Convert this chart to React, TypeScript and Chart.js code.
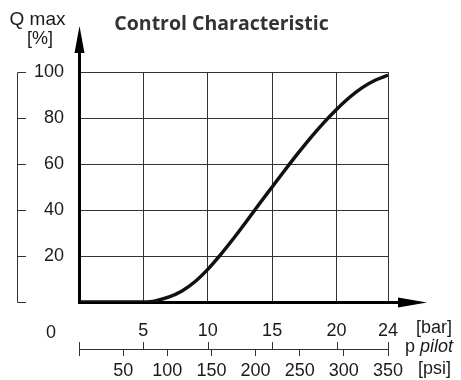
import { useEffect, useRef } from 'react';
import { Chart, registerables } from 'chart.js';

Chart.register(...registerables);

// Pilot pressure [bar] and flow [% of Q max]
const pressureBar = [0, 5, 5.5, 6, 7, 8, 9, 10, 11, 12, 13, 14, 15, 16, 17, 18, 19, 20, 21, 22, 23, 24];
const flowPercent = [0, 0, 0.1, 0.6, 2.2, 4.8, 8.8, 14.2, 20.6, 27.6, 35, 42.6, 50, 57.4, 64.6, 71.5, 77.9, 83.7, 88.9, 93.2, 96.4, 98.6];

const barTicks = [0, 5, 10, 15, 20, 24];
const psiTicks = [0, 50, 100, 150, 200, 250, 300, 350];
const yTicks = [0, 20, 40, 60, 80, 100];

const titleText = 'Control Characteristic';
const yTitle = ['Q max', '[%]'];
const barUnit = '[bar]';
const pilotLabel = ['p ', 'pilot'];
const psiUnit = '[psi]';

const FONT = '"Liberation Sans", Arial, sans-serif';
const TEXT = '#1a1a1a';
const GRID = '#333';

const decor = {
  id: 'decor',
  afterDraw(chart: any) {
    const ctx = chart.ctx as CanvasRenderingContext2D;
    const { left, right, top, bottom } = chart.chartArea;
    const xs = chart.scales.x;
    const ys = chart.scales.y;
    const ps = chart.scales.psi;
    ctx.save();
    const ax = Math.round(left - 1.5) + 1.5;
    const ay = Math.round(bottom - 1.5) + 1.5;
    ctx.strokeStyle = '#000';
    ctx.fillStyle = '#000';
    ctx.lineWidth = 3;
    // y axis extension + arrow
    ctx.beginPath();
    ctx.moveTo(ax, top + 1);
    ctx.lineTo(ax, top - 22);
    ctx.stroke();
    ctx.beginPath();
    ctx.moveTo(ax, top - 46);
    ctx.lineTo(ax - 5, top - 19);
    ctx.lineTo(ax + 5, top - 19);
    ctx.closePath();
    ctx.fill();
    // x axis extension + arrow
    ctx.beginPath();
    ctx.moveTo(right - 1, ay);
    ctx.lineTo(right + 14, ay);
    ctx.stroke();
    ctx.beginPath();
    ctx.moveTo(right + 39, ay);
    ctx.lineTo(right + 10, ay - 5);
    ctx.lineTo(right + 10, ay + 5);
    ctx.closePath();
    ctx.fill();

    // left bracket scale
    ctx.strokeStyle = GRID;
    ctx.lineWidth = 1;
    const bx = 17.5;
    ctx.beginPath();
    ctx.moveTo(bx, Math.round(ys.getPixelForValue(100)) + 0.5);
    ctx.lineTo(bx, Math.round(ys.getPixelForValue(0)) + 0.5);
    ctx.stroke();
    yTicks.forEach((v) => {
      const py = Math.round(ys.getPixelForValue(v)) + 0.5;
      ctx.beginPath();
      ctx.moveTo(bx, py);
      ctx.lineTo(26, py);
      ctx.stroke();
    });

    // bar ticks above the psi line
    barTicks.forEach((v) => {
      const px = Math.round(xs.getPixelForValue(v)) + 0.5;
      ctx.beginPath();
      ctx.moveTo(px, ps.top - 7);
      ctx.lineTo(px, ps.top);
      ctx.stroke();
    });

    // texts
    ctx.fillStyle = TEXT;
    ctx.font = `18px ${FONT}`;
    ctx.textBaseline = 'alphabetic';
    ctx.textAlign = 'center';
    ctx.fillText('0', left - 28, 337.5);
    ctx.fillText(yTitle[1], 40, 44);
    ctx.font = `19px ${FONT}`;
    ctx.fillText(yTitle[0], 37.5, 25);
    ctx.font = `18px ${FONT}`;
    ctx.textAlign = 'left';
    ctx.fillText(barUnit, 416, 333);
    ctx.fillText(pilotLabel[0], 405, 352);
    const pw = ctx.measureText(pilotLabel[0]).width;
    ctx.font = `italic 18px ${FONT}`;
    ctx.fillText(pilotLabel[1], 405 + pw, 352);
    ctx.font = `18px ${FONT}`;
    ctx.fillText(psiUnit, 418, 374);

    ctx.fillStyle = '#333';
    ctx.font = 'bold 19.5px "Open Sans", "Noto Sans", sans-serif';
    ctx.textAlign = 'center';
    ctx.fillText(titleText, 221.5, 30);
    ctx.restore();
  },
};

export default function App() {
  const ref = useRef<HTMLCanvasElement>(null);
  useEffect(() => {
    document.body.style.margin = '0';
    const canvas = ref.current!;
    const tickFont = { family: FONT, size: 18 };
    const chart = new Chart(canvas, {
      type: 'line',
      data: {
        datasets: [
          {
            data: pressureBar.map((x, i) => ({ x, y: flowPercent[i] })),
            borderColor: '#111',
            borderWidth: 3.5,
            pointRadius: 0,
            cubicInterpolationMode: 'monotone',
            fill: false,
          },
        ],
      },
      options: {
        animation: false,
        responsive: false,
        devicePixelRatio: 1,
        layout: { padding: { top: 72, right: 73, left: 0, bottom: 0 } },
        plugins: {
          legend: { display: false },
          tooltip: { enabled: false },
          title: { display: false },
        },
        scales: {
          x: {
            type: 'linear',
            position: 'bottom',
            weight: 0,
            min: 0,
            max: 24,
            afterBuildTicks: (s: any) => {
              s.ticks = barTicks.map((v) => ({ value: v }));
            },
            afterFit: (s: any) => {
              s.height = 47;
            },
            ticks: {
              autoSkip: false,
              maxRotation: 0,
              padding: 18,
              font: tickFont,
              color: TEXT,
              callback: (v: any) => (v === 0 ? '' : String(v)),
            },
            grid: { color: GRID, lineWidth: 1, drawTicks: false },
            border: { display: true, color: '#000', width: 3 },
          },
          psi: {
            type: 'linear',
            position: 'bottom',
            weight: 1,
            min: 0,
            max: 350,
            afterBuildTicks: (s: any) => {
              s.ticks = psiTicks.map((v) => ({ value: v }));
            },
            afterFit: (s: any) => {
              s.height = 31;
            },
            ticks: {
              autoSkip: false,
              maxRotation: 0,
              padding: 4,
              font: tickFont,
              color: TEXT,
              callback: (v: any) => (v === 0 ? '' : String(v)),
            },
            grid: { display: true, drawOnChartArea: false, drawTicks: true, tickLength: 7, color: GRID, lineWidth: 1 },
            border: { display: true, color: GRID, width: 1 },
          },
          y: {
            type: 'linear',
            min: 0,
            max: 100,
            afterBuildTicks: (s: any) => {
              s.ticks = yTicks.map((v) => ({ value: v }));
            },
            afterFit: (s: any) => {
              s.width = 79;
            },
            ticks: {
              padding: 15,
              font: tickFont,
              color: TEXT,
              callback: (v: any) => (v === 0 ? '' : String(v)),
            },
            grid: { color: GRID, lineWidth: 1, drawTicks: false },
            border: { display: true, color: '#000', width: 3 },
          },
        },
      } as any,
      plugins: [decor],
    });
    return () => chart.destroy();
  }, []);
  return (
    <div style={{ width: 461, height: 380 }}>
      <canvas ref={ref} width={461} height={380} style={{ display: 'block' }} />
    </div>
  );
}
